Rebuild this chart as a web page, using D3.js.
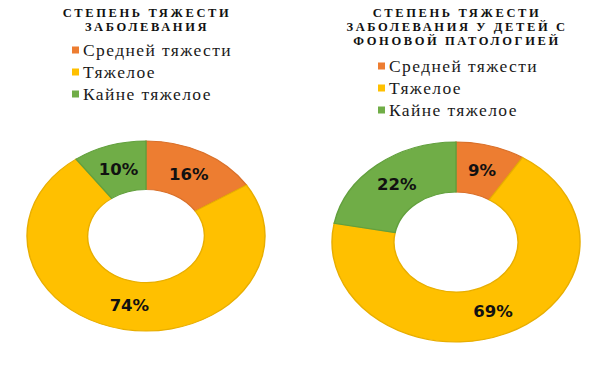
<!DOCTYPE html>
<meta charset="utf-8">
<script src="https://d3js.org/d3.v7.min.js"></script>
<style>
	body{
		margin:0;
		background:#fff;
	}
</style>
<div id="chart"></div>
<script>

var categories = ["Средней тяжести","Тяжелое","Кайне тяжелое"]
var colors = ["#ED7D31","#FFC000","#70AD47"]
var strokeColors = ["#D9702A","#E8AE00","#62A03D"]

var titleLeft = ["СТЕПЕНЬ ТЯЖЕСТИ","ЗАБОЛЕВАНИЯ"]
var valuesLeft = [16,74,10]

var titleRight = ["СТЕПЕНЬ ТЯЖЕСТИ","ЗАБОЛЕВАНИЯ У ДЕТЕЙ С","ФОНОВОЙ ПАТОЛОГИЕЙ"]
var valuesRight = [9,69,22]

var w = 608
var h = 367

var svg = d3.select("#chart").append("svg")
	.attr("width",w)
	.attr("height",h)

// each chart: title lines, legend, donut (drawn as unit circle then stretched)
drawChart({
	title:titleLeft, values:valuesLeft,
	titleX:146, titleY:17,
	legendX:72, legendY:50,
	cx:146, cy:236, rx:119, ry:95, inner:0.49
})
drawChart({
	title:titleRight, values:valuesRight,
	titleX:456, titleY:17,
	legendX:378, legendY:66,
	cx:456, cy:242, rx:124, ry:100, inner:0.5
})

function drawChart(opt){
	var g = svg.append("g")

	g.selectAll(".title").data(opt.title).enter().append("text")
		.attr("class","title")
		.attr("x",opt.titleX+1)
		.attr("y",function(d,i){return opt.titleY+i*14})
		.attr("text-anchor","middle")
		.style("font-family","'Liberation Serif'")
		.style("font-weight","bold")
		.style("font-size","12.5px")
		.style("letter-spacing","2.6px")
		.style("fill","#111")
		.text(function(d){return d})

	var leg = g.selectAll(".legItem").data(categories).enter().append("g")
		.attr("transform",function(d,i){return "translate("+opt.legendX+","+(opt.legendY+i*22)+")"})
	leg.append("rect")
		.attr("x",0).attr("y",-3.5)
		.attr("width",7).attr("height",7)
		.attr("fill",function(d,i){return colors[i]})
	leg.append("text")
		.attr("x",11)
		.attr("y",5.5)
		.style("font-family","'Liberation Serif'")
		.style("font-size","17.5px")
		.style("letter-spacing","1.4px")
		.style("fill","#1a1a1a")
		.text(function(d){return d})

	var R = 100
	var pie = d3.pie().sort(null).value(function(d){return d})
	var arc = d3.arc().innerRadius(R*opt.inner).outerRadius(R)
	var arcs = pie(opt.values)
	var sx = opt.rx/R
	var sy = opt.ry/R

	var donut = g.append("g")
		.attr("transform","translate("+opt.cx+","+opt.cy+") scale("+sx+","+sy+")")
	donut.selectAll("path").data(arcs).enter().append("path")
		.attr("d",arc)
		.attr("fill",function(d,i){return colors[i]})
		.attr("stroke",function(d,i){return strokeColors[i]})
		.attr("stroke-width",1.2)

	g.selectAll(".pctLabel").data(arcs).enter().append("text")
		.attr("class","pctLabel")
		.attr("x",function(d){return opt.cx+arc.centroid(d)[0]*sx})
		.attr("y",function(d){return opt.cy+arc.centroid(d)[1]*sy})
		.attr("text-anchor","middle")
		.attr("dy","0.36em")
		.style("font-family","'DejaVu Sans'")
		.style("font-weight","bold")
		.style("font-size","16.5px")
		.style("fill","#111")
		.text(function(d){return d.data+"%"})
}

</script>
